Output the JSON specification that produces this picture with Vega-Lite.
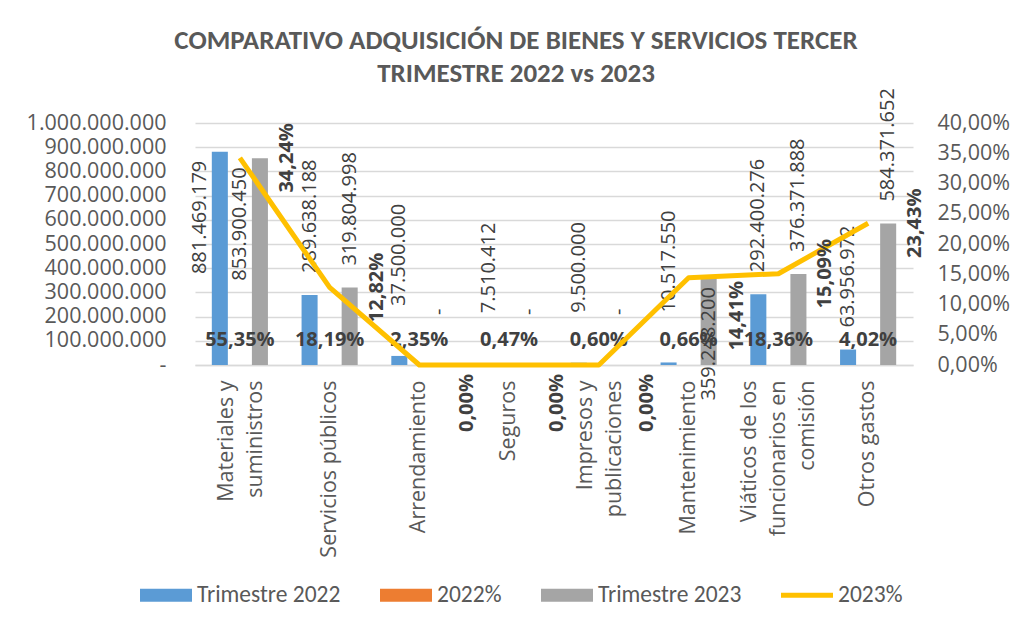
{
  "$schema": "https://vega.github.io/schema/vega-lite/v6.json",
  "width": 718,
  "height": 242,
  "autosize": {"type": "none"},
  "padding": {"left": 195, "top": 123, "right": 108, "bottom": 265},
  "background": "white",
  "config": {
    "locale": {"number": {"decimal": ",", "thousands": ".", "grouping": [3], "currency": ["$", ""], "percent": "%"}},
    "view": {"stroke": null},
    "axis": {"labelFont": "Open Sans", "labelFontSize": 21.5, "labelColor": "#595959", "ticks": false, "title": null}
  },
  "title": {
    "text": ["COMPARATIVO ADQUISICIÓN DE BIENES Y SERVICIOS TERCER", "TRIMESTRE 2022 vs 2023"],
    "anchor": "middle",
    "frame": "group",
    "dx": -38,
    "font": "Carlito, Lato",
    "fontSize": 27,
    "fontWeight": "bold",
    "color": "#595959",
    "lineHeight": 33,
    "offset": 0
  },
  "datasets": {
    "barras": [
      {"categoria": "Materiales y suministros", "serie": "Trimestre 2022", "valor": 881469179},
      {"categoria": "Materiales y suministros", "serie": "2022%", "valor": 0.5535},
      {"categoria": "Materiales y suministros", "serie": "Trimestre 2023", "valor": 853900450},
      {"categoria": "Servicios públicos", "serie": "Trimestre 2022", "valor": 289638188},
      {"categoria": "Servicios públicos", "serie": "2022%", "valor": 0.1819},
      {"categoria": "Servicios públicos", "serie": "Trimestre 2023", "valor": 319804998},
      {"categoria": "Arrendamiento", "serie": "Trimestre 2022", "valor": 37500000},
      {"categoria": "Arrendamiento", "serie": "2022%", "valor": 0.0235},
      {"categoria": "Arrendamiento", "serie": "Trimestre 2023", "valor": 0},
      {"categoria": "Seguros", "serie": "Trimestre 2022", "valor": 7510412},
      {"categoria": "Seguros", "serie": "2022%", "valor": 0.0047},
      {"categoria": "Seguros", "serie": "Trimestre 2023", "valor": 0},
      {"categoria": "Impresos y publicaciones", "serie": "Trimestre 2022", "valor": 9500000},
      {"categoria": "Impresos y publicaciones", "serie": "2022%", "valor": 0.006},
      {"categoria": "Impresos y publicaciones", "serie": "Trimestre 2023", "valor": 0},
      {"categoria": "Mantenimiento", "serie": "Trimestre 2022", "valor": 10517550},
      {"categoria": "Mantenimiento", "serie": "2022%", "valor": 0.0066},
      {"categoria": "Mantenimiento", "serie": "Trimestre 2023", "valor": 359248200},
      {"categoria": "Viáticos de los funcionarios en comisión", "serie": "Trimestre 2022", "valor": 292400276},
      {"categoria": "Viáticos de los funcionarios en comisión", "serie": "2022%", "valor": 0.1836},
      {"categoria": "Viáticos de los funcionarios en comisión", "serie": "Trimestre 2023", "valor": 376371888},
      {"categoria": "Otros gastos", "serie": "Trimestre 2022", "valor": 63956972},
      {"categoria": "Otros gastos", "serie": "2022%", "valor": 0.0402},
      {"categoria": "Otros gastos", "serie": "Trimestre 2023", "valor": 584371652}
    ],
    "linea": [
      {"categoria": "Materiales y suministros", "serie": "2023%", "pct": 0.3424},
      {"categoria": "Servicios públicos", "serie": "2023%", "pct": 0.1282},
      {"categoria": "Arrendamiento", "serie": "2023%", "pct": 0},
      {"categoria": "Seguros", "serie": "2023%", "pct": 0},
      {"categoria": "Impresos y publicaciones", "serie": "2023%", "pct": 0},
      {"categoria": "Mantenimiento", "serie": "2023%", "pct": 0.1441},
      {"categoria": "Viáticos de los funcionarios en comisión", "serie": "2023%", "pct": 0.1509},
      {"categoria": "Otros gastos", "serie": "2023%", "pct": 0.2343}
    ]
  },
  "layer": [
    {
      "data": {"name": "barras"},
      "encoding": {
        "x": {
          "field": "categoria", "type": "nominal", "sort": null,
          "scale": {
            "domain": ["Materiales y suministros", "Servicios públicos", "Arrendamiento", "Seguros", "Impresos y publicaciones", "Mantenimiento", "Viáticos de los funcionarios en comisión", "Otros gastos"],
            "paddingInner": 0.33, "paddingOuter": 0.165
          },
          "axis": {
            "labelAngle": -90, "labelPadding": 15, "labelLineHeight": 29, "labelLimit": 400,
            "domainColor": "#D9D9D9", "domainWidth": 1.5, "grid": false,
            "labelExpr": "datum.label == 'Materiales y suministros' ? ['Materiales y', 'suministros'] : datum.label == 'Impresos y publicaciones' ? ['Impresos y', 'publicaciones'] : datum.label == 'Viáticos de los funcionarios en comisión' ? ['Viáticos de los', 'funcionarios en', 'comisión'] : datum.label",
            "labelOffset": {
              "condition": [
                {"test": "datum.value == 'Materiales y suministros' || datum.value == 'Impresos y publicaciones'", "value": -13},
                {"test": "datum.value == 'Viáticos de los funcionarios en comisión'", "value": -28}
              ],
              "value": 0
            }
          }
        },
        "xOffset": {
          "field": "serie", "type": "nominal", "sort": null,
          "scale": {"domain": ["Trimestre 2022", "2022%", "Trimestre 2023"], "paddingInner": 0.2, "paddingOuter": 0.1}
        },
        "y": {
          "field": "valor", "type": "quantitative",
          "scale": {"domain": [0, 1000000000], "nice": false},
          "axis": {
            "orient": "left",
            "values": [0, 100000000, 200000000, 300000000, 400000000, 500000000, 600000000, 700000000, 800000000, 900000000, 1000000000],
            "format": ",.0f",
            "labelExpr": "datum.value == 0 ? '-' : datum.label",
            "grid": true, "gridColor": "#D9D9D9", "gridWidth": 1.3,
            "domain": false, "labelPadding": 29
          }
        }
      },
      "layer": [
        {
          "mark": {"type": "bar"},
          "encoding": {
            "color": {
              "field": "serie", "type": "nominal",
              "scale": {"domain": ["Trimestre 2022", "2022%", "Trimestre 2023", "2023%"], "range": ["#5B9BD5", "#ED7D31", "#A5A5A5", "#FFC000"]},
              "legend": {
                "title": null, "orient": "none", "direction": "horizontal",
                "legendX": -55, "legendY": 446,
                "labelFont": "Carlito, Lato", "labelFontSize": 23.5, "labelColor": "#595959",
                "symbolSize": 2704, "columnPadding": 39, "labelOffset": 5, "padding": 0,
                "encode": {
                  "symbols": {
                    "update": {
                      "shape": {"signal": "datum.value === '2023%' ? 'M-1,-0.1H1V0.1H-1Z' : 'M-1,-0.25H1V0.25H-1Z'"},
                      "fill": {"signal": "scale('color', datum.value)"},
                      "fillOpacity": {"value": 1},
                      "strokeWidth": {"value": 0},
                      "size": {"value": 2704}
                    }
                  }
                }
              }
            }
          }
        },
        {
          "transform": [{"filter": "datum.serie != '2022%' && datum.categoria != 'Materiales y suministros' && !(datum.categoria == 'Mantenimiento' && datum.serie == 'Trimestre 2023') && datum.valor >= 40000000"}],
          "mark": {"type": "text", "angle": 270, "align": "left", "baseline": "middle", "dx": 22, "font": "Open Sans", "fontSize": 20, "color": "#404040"},
          "encoding": {"text": {"field": "valor", "type": "quantitative", "format": ",.0f"}}
        },
        {
          "transform": [{"filter": "datum.serie != '2022%' && datum.categoria != 'Materiales y suministros' && !(datum.categoria == 'Mantenimiento' && datum.serie == 'Trimestre 2023') && datum.valor < 40000000"}],
          "mark": {"type": "text", "angle": 270, "align": "left", "baseline": "middle", "dx": 50, "font": "Open Sans", "fontSize": 20, "color": "#404040"},
          "encoding": {"text": {"condition": {"test": "datum.valor == 0", "value": "-"}, "field": "valor", "type": "quantitative", "format": ",.0f"}}
        },
        {
          "transform": [{"filter": "datum.serie != '2022%' && datum.categoria == 'Materiales y suministros'"}],
          "mark": {"type": "text", "angle": 270, "align": "right", "baseline": "middle", "dx": -9, "dy": -20, "font": "Open Sans", "fontSize": 20, "color": "#404040"},
          "encoding": {"text": {"field": "valor", "type": "quantitative", "format": ",.0f"}}
        },
        {
          "transform": [{"filter": "datum.serie == 'Trimestre 2023' && datum.categoria == 'Mantenimiento'"}],
          "mark": {"type": "text", "angle": 270, "align": "right", "baseline": "middle", "dx": -9, "font": "Open Sans", "fontSize": 20, "color": "#404040"},
          "encoding": {"text": {"field": "valor", "type": "quantitative", "format": ",.0f"}}
        },
        {
          "transform": [{"filter": "datum.serie == '2022%'"}],
          "mark": {"type": "text", "align": "center", "baseline": "middle", "dy": -25, "font": "Open Sans", "fontSize": 20, "fontWeight": "bold", "color": "#404040"},
          "encoding": {"text": {"field": "valor", "type": "quantitative", "format": ".2%"}}
        }
      ]
    },
    {
      "data": {"name": "linea"},
      "encoding": {
        "x": {"field": "categoria", "type": "nominal", "sort": null},
        "y": {
          "field": "pct", "type": "quantitative",
          "scale": {"domain": [0, 0.4], "nice": false},
          "axis": {
            "orient": "right",
            "values": [0, 0.05, 0.1, 0.15, 0.2, 0.25, 0.3, 0.35, 0.4],
            "format": ".2%", "grid": false, "domain": false, "labelPadding": 24
          }
        }
      },
      "layer": [
        {
          "mark": {"type": "line", "strokeWidth": 5, "strokeJoin": "round"},
          "encoding": {"color": {"field": "serie", "type": "nominal"}}
        },
        {
          "transform": [{"filter": "indexof(['Arrendamiento', 'Seguros', 'Impresos y publicaciones', 'Mantenimiento'], datum.categoria) < 0"}],
          "mark": {"type": "text", "angle": 270, "align": "center", "baseline": "middle", "dy": 47, "font": "Open Sans", "fontSize": 20, "fontWeight": "bold", "color": "#404040"},
          "encoding": {"text": {"field": "pct", "type": "quantitative", "format": ".2%"}}
        },
        {
          "transform": [{"filter": "indexof(['Arrendamiento', 'Seguros', 'Impresos y publicaciones', 'Mantenimiento'], datum.categoria) >= 0"}],
          "mark": {"type": "text", "angle": 270, "align": "center", "baseline": "middle", "dx": -38, "dy": 48, "font": "Open Sans", "fontSize": 20, "fontWeight": "bold", "color": "#404040"},
          "encoding": {"text": {"field": "pct", "type": "quantitative", "format": ".2%"}}
        }
      ]
    }
  ],
  "resolve": {"scale": {"y": "independent"}}
}
